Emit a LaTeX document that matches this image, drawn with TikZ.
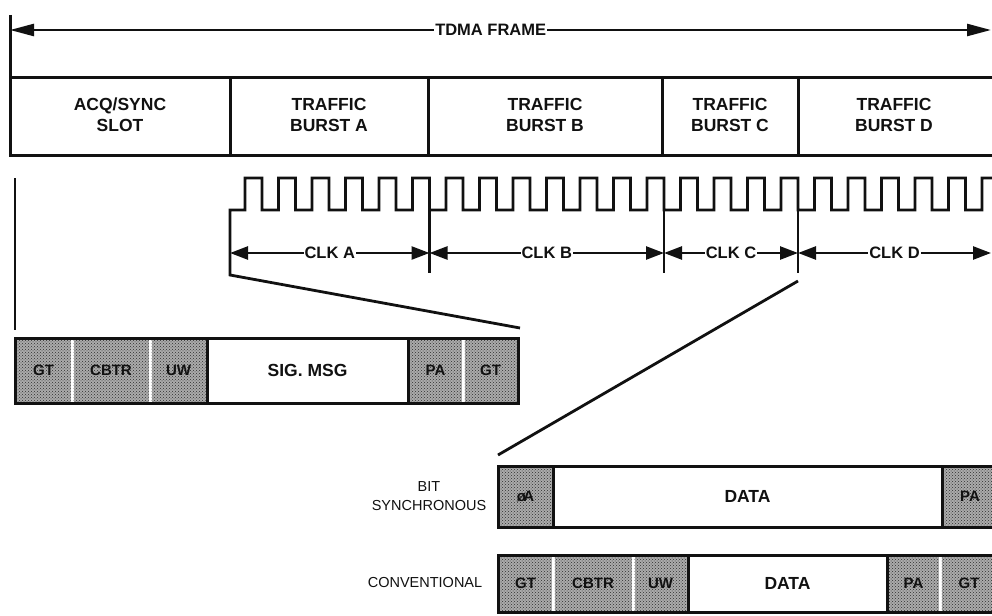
\documentclass[tikz,border=0pt]{standalone}
\usepackage{fontspec}
\setmainfont{Liberation Sans}
\usetikzlibrary{arrows.meta,patterns}
\definecolor{TFInk}{HTML}{111111}
\definecolor{TFShade}{HTML}{ABABAB}
\definecolor{TFDots}{HTML}{2E2E2E}

\begin{document}
\begin{tikzpicture}[x=1pt,y=-1pt,
  boxline/.style={draw=TFInk,line width=3pt},
  wave/.style={draw=TFInk,line width=2.8pt,line join=miter},
  tick/.style={draw=TFInk,line width=2.6pt},
  cellshade/.style={preaction={fill=TFShade},pattern=crosshatch dots,pattern color=TFDots},
  bigtxt/.style={font=\bfseries\fontsize{17.5}{21}\selectfont,align=center,text=TFInk},
  celltxt/.style={font=\bfseries\fontsize{15}{18}\selectfont,text=TFInk},
  sidetxt/.style={font=\fontsize{14.5}{19}\selectfont,align=center,text=TFInk},
  lbl/.style={font=\bfseries\fontsize{16.5}{19}\selectfont,fill=white,inner sep=1pt,text=TFInk},
  dimarrow/.style={draw=TFInk,line width=2.5pt,{Triangle[length=18pt,width=13pt]}-{Triangle[length=18pt,width=13pt]}},
  framearrow/.style={draw=TFInk,line width=2.5pt,{Triangle[length=24pt,width=12pt]}-{Triangle[length=24pt,width=12pt]}}]
\path[use as bounding box] (0,0) rectangle (992,615);
\fill[white] (0,0) rectangle (992,615);
\coordinate (fl) at (10,30);
\coordinate (fr) at (991,30);
\draw[framearrow] (fl) -- node[lbl,pos=.49] (tdma) {TDMA FRAME} (fr);
\draw[boxline] (10,15) -- (10,155) -- (992,155);
\draw[boxline] (10,78) -- (992,78);
\foreach \x in {230,428,662,798}
  \draw[boxline] (\x,78) -- (\x,155);
\node[bigtxt] (acq) at (120,115) {ACQ/SYNC\\SLOT};
\node[bigtxt] (tba) at (329,115) {TRAFFIC\\BURST A};
\node[bigtxt] (tbb) at (545,115) {TRAFFIC\\BURST B};
\node[bigtxt] (tbc) at (730,115) {TRAFFIC\\BURST C};
\node[bigtxt] (tbd) at (894,115) {TRAFFIC\\BURST D};
\draw[tick] (15,178) -- (15,330);
\coordinate (clk0) at (230,275);
\coordinate (pktTR) at (520,328);
\draw[wave] (pktTR) -- (clk0) -- (230,210) -- (245,210)
  \foreach \k in {0,...,22} { -- ++(0,-32) -- ++(17,0) -- ++(0,32) -- ++(16.5,0) };
\foreach \x/\n in {429.5/ab,664/bc,798/cd} {
  \coordinate (top\n) at (\x,178);
  \coordinate (bot\n) at (\x,273);
  \draw[tick] (top\n) -- (bot\n);
}
\coordinate (ca) at (230,253);
\coordinate (cb) at (429.5,253);
\coordinate (cc) at (664,253);
\coordinate (cd) at (798,253);
\coordinate (ce) at (991,253);
\draw[dimarrow] (ca) -- node[lbl] (clka) {CLK A} (cb);
\draw[dimarrow] (cb) -- node[lbl] (clkb) {CLK B} (cc);
\draw[dimarrow] (cc) -- node[lbl] (clkc) {CLK C} (cd);
\draw[dimarrow] (cd) -- node[lbl] (clkd) {CLK D} (ce);
\coordinate (cdlow) at (798,281);
\coordinate (bitTL) at (498,455);
\draw[wave] (cdlow) -- (bitTL);
\foreach \a/\b/\t/\n in {15/72/GT/sgtA,72/150/CBTR/scbtr,150/207/UW/suw,408/463/PA/spa,463/518/GT/sgtB} {
  \path[cellshade] (\a+1.5,338) rectangle (\b-1.5,403);
  \node[celltxt] (\n) at ({(\a+\b)/2},370.5) {\t};
}
\draw[boxline] (15,338) rectangle (518,403);
\draw[boxline] (207,338) -- (207,403) (408,338) -- (408,403);
\node[bigtxt] (sigmsg) at (307.5,370.5) {SIG. MSG};
\foreach \a/\b/\t/\n in {498/553/ø\!A/bphi,942/998/PA/bpa} {
  \path[cellshade] (\a+1.5,466) rectangle (\b-1.5,527);
  \node[celltxt] (\n) at ({(\a+\b)/2},496.5) {\t};
}
\draw[boxline] (992,466) -- (498,466) -- (498,527) -- (992,527);
\draw[boxline] (553,466) -- (553,527) (942,466) -- (942,527);
\node[bigtxt] (bdata) at (747.5,496.5) {DATA};
\node[sidetxt] (bitsync) at (429,496) {BIT\\SYNCHRONOUS};
\foreach \a/\b/\t/\n in {498/553/GT/cgtA,553/633/CBTR/ccbtr,633/688/UW/cuw,887/940/PA/cpa,940/998/GT/cgtB} {
  \path[cellshade] (\a+1.5,555) rectangle (\b-1.5,612);
  \node[celltxt] (\n) at ({(\a+\b)/2},583.5) {\t};
}
\draw[boxline] (992,555) -- (498,555) -- (498,612) -- (992,612);
\draw[boxline] (688,555) -- (688,612) (887,555) -- (887,612);
\node[bigtxt] (cdata) at (787.5,583.5) {DATA};
\node[sidetxt] (conv) at (425,583) {CONVENTIONAL};
\end{tikzpicture}
\end{document}
